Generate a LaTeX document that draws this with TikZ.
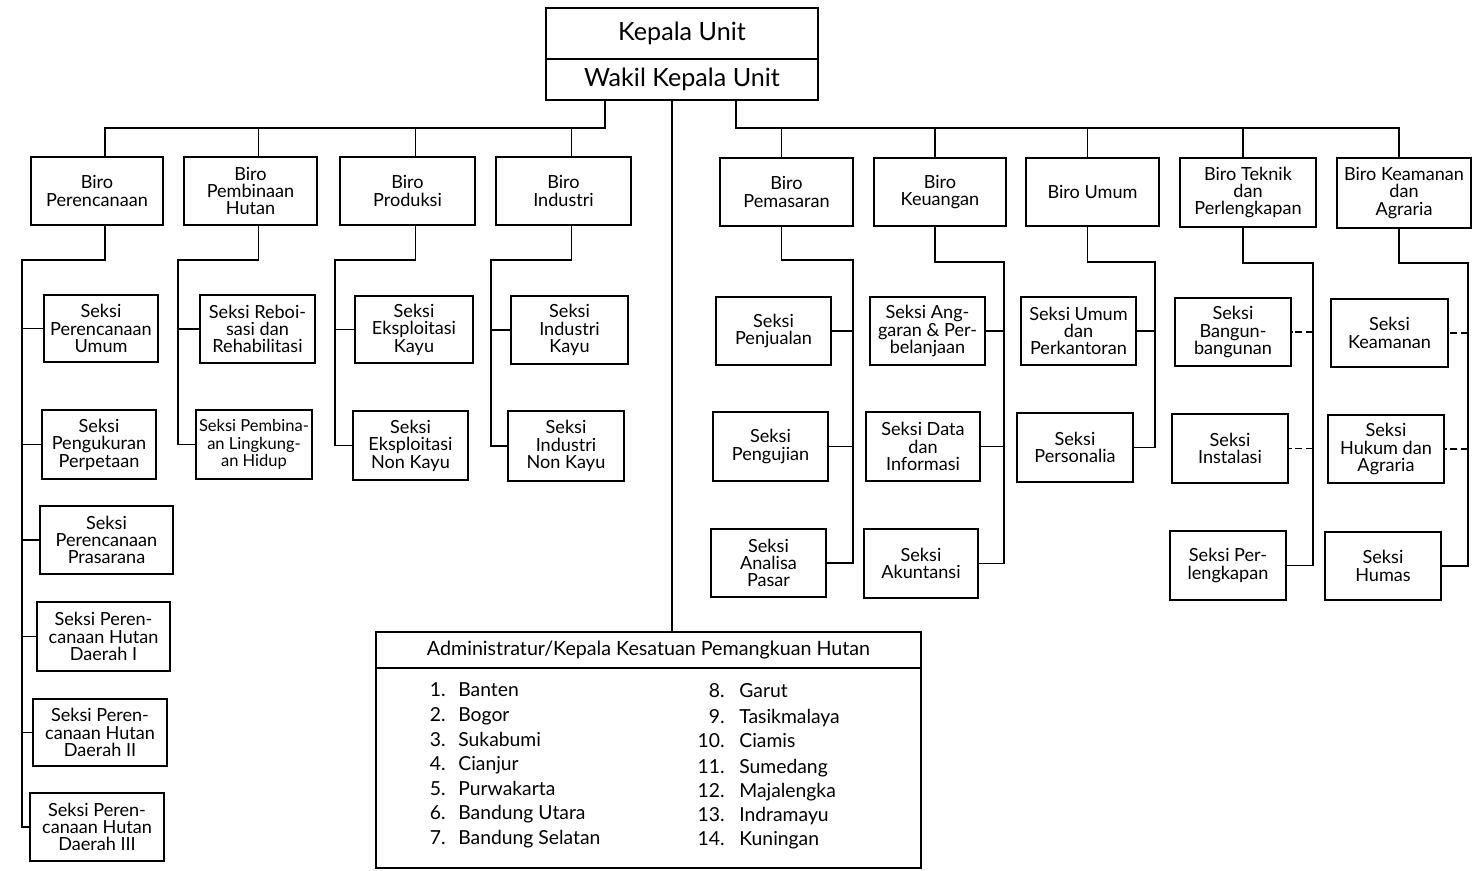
\documentclass[tikz,border=0pt]{standalone}
\usepackage{fontspec}
\setmainfont{Lato}
\usetikzlibrary{calc}
\tikzset{
  box/.style={draw, line width=1pt, align=center, inner sep=1pt,
    font=\fontsize{10.3}{9.9}\selectfont},
  smallbox/.style={box, font=\fontsize{9.4}{9.9}\selectfont},
  bigbox/.style={box, font=\fontsize{14.3}{15}\selectfont},
  conn/.style={line width=1pt},
  dconn/.style={line width=1pt, dash pattern=on 4pt off 2pt},
  item/.style={inner sep=0pt, font=\fontsize{11}{12}\selectfont}
}
\newcommand\bx[7][box]{%
  \pgfmathsetmacro\bxw{(#5-#3)*0.569055}%
  \pgfmathsetmacro\bxh{(#6-#4)*0.569055}%
  \node[#1,minimum width=\bxw pt,minimum height=\bxh pt] (#2) at ({(#3+#5)/2},{(#4+#6)/2}) {#7};}
\begin{document}
\begin{tikzpicture}[x=0.02cm,y=-0.02cm]
\useasboundingbox (0,0) rectangle (1475,870);
% top
\bx[bigbox]{kepala}{546}{8}{818}{59}{Kepala Unit}
\bx[bigbox]{wakil}{546}{59}{818}{100}{Wakil Kepala Unit}
% bureaus
\bx{bPer}{31}{157}{163}{225}{Biro\\Perencanaan}
\bx{bPem}{184}{157}{317}{225}{Biro\\Pembinaan\\Hutan}
\bx{bPro}{340}{157}{475}{225}{Biro\\Produksi}
\bx{bInd}{496}{157}{631}{225}{Biro\\Industri}
\bx{bPms}{720}{158}{853}{226}{Biro\\Pemasaran}
\bx{bKeu}{874}{158}{1006}{226}{Biro\\Keuangan}
\bx{bUmu}{1026}{158}{1159}{226}{Biro Umum}
\bx{bTek}{1180}{158}{1316}{227}{Biro Teknik\\dan\\Perlengkapan}
\bx{bKea}{1337}{158}{1471}{228}{Biro Keamanan\\dan\\Agraria}
% sections
\bx{a1}{44}{295}{158}{362}{Seksi\\Perencanaan\\Umum}
\bx{a2}{42}{410}{156}{479}{Seksi\\Pengukuran\\Perpetaan}
\bx{a3}{40}{506}{173}{574}{Seksi\\Perencanaan\\Prasarana}
\bx{a4}{37}{602}{170}{671}{Seksi Peren-\\canaan Hutan\\Daerah I}
\bx{a5}{33}{699}{167}{766}{Seksi Peren-\\canaan Hutan\\Daerah II}
\bx{a6}{30}{793}{164}{861}{Seksi Peren-\\canaan Hutan\\Daerah III}
\bx{b1}{200}{295}{315}{363}{Seksi Reboi-\\sasi dan\\Rehabilitasi}
\bx[smallbox]{b2}{196}{410}{312}{479}{Seksi Pembina-\\an Lingkung-\\an Hidup}
\bx{c1}{355}{296}{473}{363}{Seksi\\Eksploitasi\\Kayu}
\bx{c2}{353}{411}{468}{480}{Seksi\\Eksploitasi\\Non Kayu}
\bx{d1}{511}{296}{628}{364}{Seksi\\Industri\\Kayu}
\bx{d2}{508}{411}{624}{481}{Seksi\\Industri\\Non Kayu}
\bx{e1}{716}{297}{831}{365}{Seksi\\Penjualan}
\bx{e2}{713}{412}{828}{481}{Seksi\\Pengujian}
\bx{e3}{711}{529}{826}{597}{Seksi\\Analisa\\Pasar}
\bx{f1}{870}{297}{985}{365}{Seksi Ang-\\garan \& Per-\\belanjaan}
\bx{f2}{866}{412}{980}{481}{Seksi Data\\dan\\Informasi}
\bx{f3}{864}{529}{978}{598}{Seksi\\Akuntansi}
\bx{g1}{1021}{297}{1136}{365}{Seksi Umum\\dan\\Perkantoran}
\bx{g2}{1017}{413}{1133}{482}{Seksi\\Personalia}
\bx{h1}{1175}{298}{1291}{366}{Seksi\\Bangun-\\bangunan}
\bx{h2}{1172}{414}{1288}{483}{Seksi\\Instalasi}
\bx{h3}{1170}{531}{1286}{600}{Seksi Per-\\lengkapan}
\bx{i1}{1331}{299}{1448}{367}{Seksi\\Keamanan}
\bx{i2}{1328}{415}{1444}{483}{Seksi\\Hukum dan\\Agraria}
\bx{i3}{1325}{532}{1441}{600}{Seksi\\Humas}
% admin box
\bx[box]{adminH}{376}{632}{921}{668}{\fontsize{11.2}{12}\selectfont Administratur/Kepala Kesatuan Pemangkuan Hutan}
\bx[box]{adminB}{376}{668}{921}{868}{}
\foreach \i/\n/\y in {1/Banten/690,2/Bogor/715,3/Sukabumi/740,4/Cianjur/764,5/Purwakarta/789,6/Bandung Utara/813,7/Bandung Selatan/838}{
  \node[item,anchor=base east] (ln\i) at (446,\y+6) {\i.};
  \node[item,anchor=base west] (lt\i) at (458,\y+6) {\n};
}
\foreach \i/\n/\y in {8/Garut/691,9/Tasikmalaya/717,10/Ciamis/741,11/Sumedang/767,12/Majalengka/791,13/Indramayu/815,14/Kuningan/839}{
  \node[item,anchor=base east] (rn\i) at (725,\y+6) {\i.};
  \node[item,anchor=base west] (rt\i) at (739,\y+6) {\n};
}
% top connectors
\coordinate (LB) at (605,128);
\coordinate (RB) at (736,128);
\coordinate (mv) at (672,0);
\foreach \b in {bPer,bPem,bPro,bInd}{
  \coordinate (t\b) at ($(\b.north)+(8,0)$);
  \coordinate (u\b) at ($(\b.south)+(8,0)$);
}
\foreach \b in {bPms,bKeu,bUmu,bTek,bKea}{
  \coordinate (t\b) at ($(\b.north)+(-5,0)$);
  \coordinate (u\b) at ($(\b.south)+(-5,0)$);
}
\draw[conn] (wakil.south -| LB) -- (LB) -| (tbPer);
\foreach \b in {bPem,bPro,bInd} \draw[conn] (t\b |- LB) -- (t\b);
\draw[conn] (wakil.south -| RB) -- (RB) -| (tbKea);
\foreach \b in {bPms,bKeu,bUmu,bTek} \draw[conn] (t\b |- RB) -- (t\b);
\draw[conn] (wakil.south -| mv) -- (adminH.north -| mv);
% left groups
\coordinate (av) at (22,260);
\draw[conn] (ubPer) |- (av) -- (av |- a6.west) -- (a6.west);
\foreach \n in {a1,a2,a3,a4,a5} \draw[conn] (av |- \n.west) -- (\n.west);
\coordinate (bv) at (178,260);
\draw[conn] (ubPem) |- (bv) -- (bv |- b2.west) -- (b2.west);
\draw[conn] (bv |- b1.west) -- (b1.west);
\coordinate (cv) at (335,260);
\draw[conn] (ubPro) |- (cv) -- (cv |- c2.west) -- (c2.west);
\draw[conn] (cv |- c1.west) -- (c1.west);
\coordinate (dv) at (491,260);
\draw[conn] (ubInd) |- (dv) -- (dv |- d2.west) -- (d2.west);
\draw[conn] (dv |- d1.west) -- (d1.west);
% right groups
\coordinate (ev) at (853,260);
\draw[conn] (ubPms) |- (ev) -- (ev |- e3.east) -- (e3.east);
\foreach \n in {e1,e2} \draw[conn] (ev |- \n.east) -- (\n.east);
\coordinate (fv) at (1004,262);
\draw[conn] (ubKeu) |- (fv) -- (fv |- f3.east) -- (f3.east);
\foreach \n in {f1,f2} \draw[conn] (fv |- \n.east) -- (\n.east);
\coordinate (gv) at (1155,262);
\draw[conn] (ubUmu) |- (gv) -- (gv |- g2.east) -- (g2.east);
\draw[conn] (gv |- g1.east) -- (g1.east);
\coordinate (hv) at (1313,263);
\draw[conn] (ubTek) |- (hv) -- (hv |- h3.east) -- (h3.east);
\foreach \n in {h1,h2} \draw[dconn] (hv |- \n.east) -- (\n.east);
\coordinate (iv) at (1468,263);
\draw[conn] (ubKea) |- (iv) -- (iv |- i3.east) -- (i3.east);
\foreach \n in {i1,i2} \draw[dconn] (iv |- \n.east) -- (\n.east);
\end{tikzpicture}
\end{document}
